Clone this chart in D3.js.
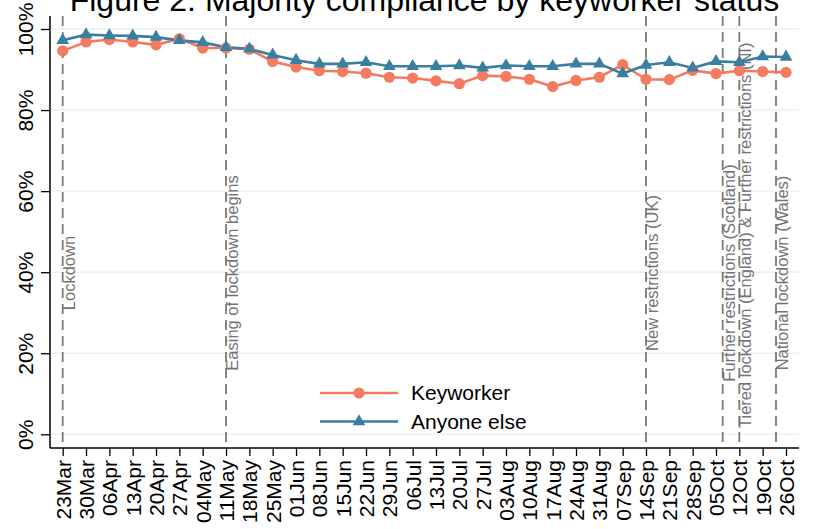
<!DOCTYPE html>
<html>
<head>
<meta charset="utf-8">
<script src="https://cdn.jsdelivr.net/npm/d3@7"></script>
<style>
  body { margin: 0; background: #fff; }
  svg { font-family: "Liberation Sans", Arial, sans-serif; }
</style>
</head>
<body>
<div id="chart"></div>
<script>
// weekly survey waves
const weeks = ['2020-03-23','2020-03-30','2020-04-06','2020-04-13','2020-04-20','2020-04-27','2020-05-04',
	'2020-05-11','2020-05-18','2020-05-25','2020-06-01','2020-06-08','2020-06-15','2020-06-22','2020-06-29',
	'2020-07-06','2020-07-13','2020-07-20','2020-07-27','2020-08-03','2020-08-10','2020-08-17','2020-08-24',
	'2020-08-31','2020-09-07','2020-09-14','2020-09-21','2020-09-28','2020-10-05','2020-10-12','2020-10-19','2020-10-26'];

const keyworker = [94.6, 96.8, 97.4, 96.8, 96.1, 97.6, 95.3, 95.3, 95.0, 92.0, 90.6, 89.7, 89.5, 89.1, 88.1, 87.9,
	87.2, 86.5, 88.5, 88.3, 87.6, 85.8, 87.3, 88.1, 91.2, 87.6, 87.5, 89.8, 89.0, 89.7, 89.5, 89.3];

const anyoneElse = [97.2, 98.6, 98.4, 98.3, 98.0, 97.2, 96.7, 95.5, 95.1, 93.6, 92.3, 91.4, 91.4, 91.8, 90.8, 90.8,
	90.8, 91.0, 90.4, 91.0, 90.8, 90.8, 91.4, 91.4, 89.0, 91.1, 91.8, 90.4, 92.0, 91.8, 93.2, 93.1];

const yTicks = [0, 20, 40, 60, 80, 100];

// policy events shown as dashed lines
const eventDates = ['2020-03-23', '2020-05-11', '2020-09-14', '2020-10-07', '2020-10-12', '2020-10-23'];
const eventLabels = ['Lockdown', 'Easing of lockdown begins', 'New restrictions (UK)',
	'Further restrictions (Scotland)', 'Tiered lockdown (England) & Further restrictions (NI)', 'National lockdown (Wales)'];

const seriesNames = ['Keyworker', 'Anyone else'];
const colors = ['#f47b5f', '#3a7ea0'];

const parse = d3.utcParse('%Y-%m-%d');
const fmt = d3.utcFormat('%d%b');

const W = 814, H = 529;
const margin = {top: 16, left: 50},
	width = 749,
	height = 432;

const svg = d3.select('#chart')
	.append('svg')
	.attr('width', W)
	.attr('height', H);

// title, partly cut off at the top like the original
svg.append('text')
	.attr('x', margin.left + width / 2)
	.attr('y', 11)
	.attr('text-anchor', 'middle')
	.style('font-size', '32px')
	.text('Figure 2: Majority compliance by keyworker status');

const g = svg.append('g')
	.attr('transform', `translate(${margin.left},${margin.top})`);

const dates = weeks.map(parse);

const x = d3.scaleUtc()
	.domain(d3.extent(dates))
	.range([12.7, 736]);

const y = d3.scaleLinear()
	.domain([0, 100])
	.range([418.3, 13]);

// grid
g.selectAll('.grid')
	.data(yTicks)
	.join('line')
	.attr('class', 'grid')
	.attr('x1', 0)
	.attr('x2', width)
	.attr('y1', d => y(d))
	.attr('y2', d => y(d))
	.attr('stroke', '#eaf1f2')
	.attr('stroke-width', 1.5);

// y axis
const yAxis = g.append('g')
	.call(d3.axisLeft(y).tickValues(yTicks).tickFormat(d => d + '%').tickSize(9).tickSizeOuter(0));
yAxis.select('.domain').remove();
yAxis.selectAll('line').attr('stroke', '#000').attr('stroke-width', 1.3);
yAxis.selectAll('text')
	.attr('transform', 'rotate(-90)')
	.attr('text-anchor', 'middle')
	.attr('x', 0)
	.attr('y', -17)
	.attr('dy', 0)
	.style('font-size', '21px')
	.attr('fill', '#000');

g.append('line')
	.attr('x1', 0).attr('x2', 0)
	.attr('y1', 0).attr('y2', height)
	.attr('stroke', '#000').attr('stroke-width', 1.5);

// x axis
const xAxis = g.append('g')
	.attr('transform', `translate(0,${height})`)
	.call(d3.axisBottom(x).tickValues(dates).tickFormat(fmt).tickSize(8).tickSizeOuter(0));
xAxis.select('.domain').remove();
xAxis.selectAll('line').attr('stroke', '#000').attr('stroke-width', 1.3);
xAxis.selectAll('text')
	.attr('transform', 'rotate(-90)')
	.attr('text-anchor', 'end')
	.attr('x', -12)
	.attr('y', 0)
	.attr('dy', '0.35em')
	.style('font-size', '21px')
	.attr('fill', '#000');

g.append('line')
	.attr('x1', 0).attr('x2', width)
	.attr('y1', height).attr('y2', height)
	.attr('stroke', '#000').attr('stroke-width', 1.5);

// event lines and labels
const events = eventDates.map((d, i) => ({date: parse(d), label: eventLabels[i]}));

g.selectAll('.event')
	.data(events)
	.join('line')
	.attr('class', 'event')
	.attr('x1', d => x(d.date))
	.attr('x2', d => x(d.date))
	.attr('y1', 0)
	.attr('y2', height)
	.attr('stroke', '#7a7a7a')
	.attr('stroke-width', 1.8)
	.attr('stroke-dasharray', '10,6');

const labels = g.selectAll('.evlabel')
	.data(events)
	.join('text')
	.attr('class', 'evlabel')
	.attr('text-anchor', 'middle')
	.style('font-size', '16.5px')
	.attr('fill', '#747474')
	.text(d => d.label);

labels.each(function(d) {
	const len = this.getComputedTextLength();
	let cy = 257;
	if (cy + len / 2 > 412) cy = 412 - len / 2;
	d3.select(this)
		.attr('transform', `translate(${x(d.date) + 12},${cy}) rotate(-90)`);
});

// series
const series = [keyworker, anyoneElse];
const line = d3.line()
	.x((d, i) => x(dates[i]))
	.y(d => y(d));

series.forEach((vals, s) => {
	g.append('path')
		.datum(vals)
		.attr('fill', 'none')
		.attr('stroke', colors[s])
		.attr('stroke-width', 2.6)
		.attr('d', line);
});

g.selectAll('.kw')
	.data(keyworker)
	.join('circle')
	.attr('class', 'kw')
	.attr('cx', (d, i) => x(dates[i]))
	.attr('cy', d => y(d))
	.attr('r', 5.6)
	.attr('fill', colors[0]);

const tri = d3.symbol().type(d3.symbolTriangle).size(70);
g.selectAll('.ae')
	.data(anyoneElse)
	.join('path')
	.attr('class', 'ae')
	.attr('transform', (d, i) => `translate(${x(dates[i])},${y(d)})`)
	.attr('d', tri)
	.attr('fill', colors[1]);

// legend
const legend = svg.append('g');
seriesNames.forEach((name, i) => {
	const ly = 393 + i * 28.5;
	legend.append('line')
		.attr('x1', 320).attr('x2', 398)
		.attr('y1', ly).attr('y2', ly)
		.attr('stroke', colors[i])
		.attr('stroke-width', 2.6);
	if (i === 0) {
		legend.append('circle')
			.attr('cx', 359).attr('cy', ly).attr('r', 5.6)
			.attr('fill', colors[i]);
	} else {
		legend.append('path')
			.attr('transform', `translate(359,${ly})`)
			.attr('d', tri)
			.attr('fill', colors[i]);
	}
	legend.append('text')
		.attr('x', 411)
		.attr('y', ly)
		.attr('dy', '0.35em')
		.style('font-size', '21px')
		.text(name);
});
</script>
</body>
</html>
